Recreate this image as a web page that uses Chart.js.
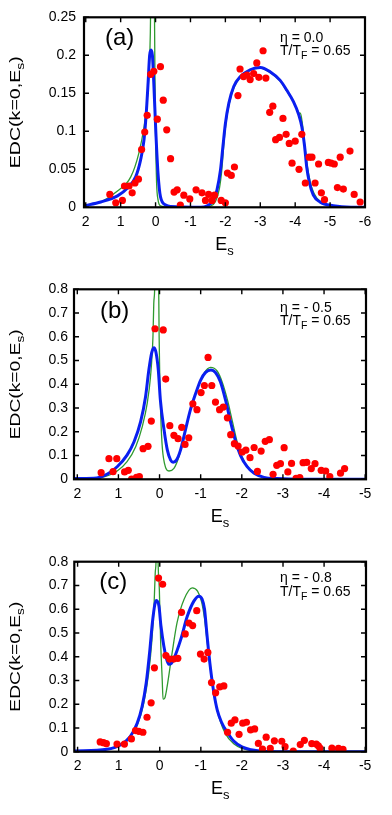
<!DOCTYPE html>
<html><head><meta charset="utf-8">
<script src="https://cdn.jsdelivr.net/npm/chart.js@4.4.1/dist/chart.umd.min.js"></script>
<style>
html,body{margin:0;padding:0;background:#fff;}
#wrap{position:relative;width:392px;height:815px;overflow:hidden;background:#fff;}
canvas{position:absolute;left:0;}
</style></head><body>
<div id="wrap">
<canvas id="ca" width="392" height="270" style="top:0px"></canvas>
<canvas id="cb" width="392" height="270" style="top:270px"></canvas>
<canvas id="cc" width="392" height="275" style="top:540px"></canvas>
</div>
<script>
// ---------- tick values / labels ----------
const xTicksA = [2,1,0,-1,-2,-3,-4,-5,-6];
const xLabelsA = ['2','1','0','-1','-2','-3','-4','-5','-6'];
const yTicksA = [0,0.05,0.1,0.15,0.2,0.25];
const yLabelsA = ['0','0.05','0.1','0.15','0.2','0.25'];
const xTicksBC = [2,1,0,-1,-2,-3,-4,-5];
const xLabelsBC = ['2','1','0','-1','-2','-3','-4','-5'];
const yTicksBC = [0,0.1,0.2,0.3,0.4,0.5,0.6,0.7,0.8];
const yLabelsBC = ['0','0.1','0.2','0.3','0.4','0.5','0.6','0.7','0.8'];

// ---------- panel (a), eta = 0.0 ----------
const dotsA = [[1.31,0.017],[1.14,0.006],[0.95,0.009],[0.89,0.028],[0.76,0.028],[0.67,0.019],[0.59,0.032],[0.49,0.037],[0.40,0.076],[0.31,0.099],[0.24,0.121],[0.14,0.175],[0.05,0.179],[-0.05,0.116],[-0.14,0.185],[-0.22,0.141],[-0.32,0.102],[-0.43,0.064],[-0.53,0.020],[-0.62,0.023],[-0.71,0.003],[-0.81,0.016],[-0.98,0.011],[-1.16,0.023],[-1.33,0.019],[-1.43,0.009],[-1.52,0.017],[-1.62,0.009],[-1.69,0.016],[-1.88,0.009],[-2.00,0.006],[-2.06,0.045],[-2.17,0.042],[-2.26,0.053],[-2.36,0.147],[-2.42,0.182],[-2.52,0.172],[-2.62,0.174],[-2.71,0.168],[-2.81,0.176],[-2.90,0.190],[-2.96,0.171],[-3.08,0.206],[-3.16,0.170],[-3.27,0.125],[-3.36,0.133],[-3.44,0.089],[-3.55,0.092],[-3.65,0.117],[-3.74,0.096],[-3.83,0.084],[-3.91,0.058],[-4.00,0.087],[-4.11,0.050],[-4.19,0.096],[-4.29,0.032],[-4.40,0.066],[-4.48,0.066],[-4.57,0.032],[-4.67,0.057],[-4.75,0.019],[-4.84,0.010],[-4.95,0.059],[-5.03,0.058],[-5.12,0.057],[-5.21,0.026],[-5.29,0.066],[-5.38,0.024],[-5.57,0.074],[-5.69,0.017],[-5.86,0.007]];
const blueA = [[2.05,0.002],[1.57,0.007],[1.09,0.015],[0.81,0.025],[0.57,0.040],[0.43,0.062],[0.33,0.089],[0.26,0.128],[0.21,0.167],[0.17,0.200],[0.13,0.207],[0.09,0.200],[0.05,0.163],[-0.01,0.097],[-0.07,0.045],[-0.14,0.014],[-0.29,0.003],[-0.43,0.001],[-1.30,0.000],[-1.48,0.002],[-1.67,0.010],[-1.76,0.023],[-1.86,0.049],[-1.93,0.080],[-2.00,0.110],[-2.10,0.137],[-2.24,0.159],[-2.43,0.172],[-2.71,0.181],[-3.00,0.184],[-3.29,0.178],[-3.57,0.167],[-3.76,0.154],[-3.95,0.139],[-4.10,0.122],[-4.19,0.106],[-4.27,0.080],[-4.33,0.053],[-4.41,0.032],[-4.52,0.016],[-4.71,0.007],[-5.09,0.002],[-5.60,0.000],[-6.00,0.000]];
const greenA = [[2.05,0.002],[1.57,0.007],[1.10,0.021],[0.71,0.040],[0.48,0.071],[0.33,0.106],[0.24,0.141],[0.18,0.185],[0.15,0.229],[0.13,0.300],[0.09,0.450],[0.05,0.300],[0.03,0.251],[0.02,0.185],[0.00,0.097],[-0.03,0.032],[-0.07,0.010],[-0.14,0.002],[-0.40,0.000],[-1.40,0.000],[-1.55,0.001],[-1.72,0.008],[-1.83,0.025],[-1.90,0.050],[-1.96,0.085],[-2.03,0.115],[-2.12,0.138],[-2.24,0.157],[-2.43,0.171],[-2.71,0.180],[-3.00,0.183],[-3.29,0.177],[-3.57,0.166],[-3.76,0.153],[-3.95,0.139],[-4.06,0.128],[-4.12,0.124],[-4.15,0.124],[-4.20,0.112],[-4.29,0.075],[-4.38,0.045],[-4.48,0.025],[-4.62,0.012],[-4.81,0.005],[-5.20,0.001],[-6.00,0.000]];

// ---------- panel (b), eta = -0.5 ----------
const dotsB = [[1.42,0.028],[1.23,0.087],[1.13,0.032],[1.04,0.087],[0.85,0.031],[0.76,0.038],[0.68,0.001],[0.56,0.008],[0.49,0.011],[0.40,0.129],[0.28,0.139],[0.20,0.245],[0.11,0.634],[-0.09,0.629],[-0.15,0.422],[-0.25,0.226],[-0.35,0.185],[-0.45,0.171],[-0.54,0.219],[-0.62,0.147],[-0.71,0.175],[-0.81,0.318],[-0.91,0.293],[-1.01,0.365],[-1.09,0.395],[-1.18,0.513],[-1.27,0.395],[-1.36,0.325],[-1.46,0.293],[-1.55,0.304],[-1.65,0.259],[-1.73,0.188],[-1.82,0.150],[-1.91,0.140],[-2.01,0.115],[-2.10,0.123],[-2.20,0.091],[-2.30,0.134],[-2.38,0.033],[-2.47,0.119],[-2.57,0.160],[-2.67,0.167],[-2.76,0.021],[-2.85,0.059],[-2.94,0.066],[-3.03,0.133],[-3.12,0.031],[-3.21,0.067],[-3.32,0.004],[-3.41,0.007],[-3.49,0.070],[-3.58,0.071],[-3.69,0.045],[-3.78,0.066],[-3.93,0.038],[-4.04,0.035],[-4.14,0.011],[-4.40,0.026],[-4.50,0.045]];
const blueB = [[2.08,0.003],[1.60,0.004],[1.27,0.022],[1.03,0.053],[0.79,0.102],[0.62,0.158],[0.46,0.243],[0.34,0.348],[0.26,0.460],[0.19,0.533],[0.14,0.554],[0.09,0.537],[0.03,0.460],[-0.02,0.334],[-0.11,0.208],[-0.19,0.123],[-0.27,0.081],[-0.33,0.072],[-0.41,0.081],[-0.51,0.123],[-0.63,0.208],[-0.75,0.292],[-0.88,0.362],[-1.00,0.418],[-1.12,0.450],[-1.25,0.460],[-1.36,0.450],[-1.48,0.411],[-1.61,0.330],[-1.73,0.240],[-1.85,0.160],[-1.97,0.100],[-2.13,0.053],[-2.30,0.025],[-2.54,0.008],[-2.86,0.003],[-3.43,0.000],[-5.02,0.000]];
const greenB = [[2.08,0.001],[1.44,0.007],[1.03,0.035],[0.79,0.074],[0.58,0.137],[0.42,0.222],[0.30,0.320],[0.22,0.432],[0.16,0.601],[0.14,0.741],[0.12,0.794],[0.07,1.300],[0.02,0.794],[0.01,0.601],[-0.02,0.320],[-0.06,0.152],[-0.12,0.067],[-0.23,0.035],[-0.35,0.046],[-0.47,0.095],[-0.59,0.180],[-0.75,0.292],[-0.92,0.383],[-1.08,0.446],[-1.24,0.471],[-1.40,0.456],[-1.52,0.411],[-1.65,0.335],[-1.77,0.245],[-1.89,0.155],[-2.01,0.093],[-2.17,0.046],[-2.38,0.018],[-2.62,0.004],[-3.00,0.000],[-5.02,0.000]];

// ---------- panel (c), eta = -0.8 ----------
const dotsC = [[1.45,0.041],[1.37,0.038],[1.30,0.034],[1.04,0.032],[0.86,0.032],[0.69,0.054],[0.59,0.089],[0.51,0.086],[0.41,0.082],[0.31,0.145],[0.21,0.206],[0.13,0.353],[0.03,0.731],[-0.07,0.705],[-0.15,0.405],[-0.24,0.390],[-0.34,0.390],[-0.44,0.393],[-0.53,0.587],[-0.62,0.496],[-0.71,0.542],[-0.80,0.531],[-0.90,0.594],[-0.99,0.411],[-1.08,0.390],[-1.17,0.418],[-1.26,0.291],[-1.36,0.248],[-1.46,0.273],[-1.56,0.277],[-1.65,0.082],[-1.74,0.120],[-1.83,0.134],[-1.93,0.073],[-2.02,0.120],[-2.11,0.124],[-2.21,0.092],[-2.31,0.096],[-2.40,0.035],[-2.50,0.011],[-2.59,0.061],[-2.69,0.014],[-2.79,0.046],[-2.97,0.044],[-3.05,0.021],[-3.25,0.003],[-3.42,0.030],[-3.52,0.048],[-3.70,0.034],[-3.81,0.032],[-3.86,0.025],[-3.90,0.015],[-4.19,0.015],[-4.35,0.014],[-4.46,0.010]];
const blueC = [[2.08,0.003],[1.29,0.010],[0.96,0.028],[0.72,0.063],[0.55,0.120],[0.43,0.190],[0.33,0.289],[0.24,0.430],[0.18,0.542],[0.12,0.620],[0.08,0.637],[0.02,0.613],[-0.03,0.528],[-0.10,0.444],[-0.16,0.394],[-0.22,0.368],[-0.28,0.372],[-0.34,0.390],[-0.51,0.472],[-0.67,0.570],[-0.83,0.634],[-0.95,0.655],[-1.03,0.643],[-1.09,0.600],[-1.14,0.510],[-1.19,0.420],[-1.25,0.330],[-1.32,0.245],[-1.40,0.175],[-1.50,0.125],[-1.65,0.080],[-1.80,0.045],[-2.00,0.020],[-2.22,0.008],[-2.50,0.002],[-3.00,0.000],[-5.02,0.000]];
const greenC = [[2.08,0.001],[1.45,0.006],[1.04,0.020],[0.76,0.054],[0.55,0.110],[0.39,0.204],[0.27,0.331],[0.19,0.472],[0.14,0.612],[0.11,0.753],[0.09,0.803],[0.06,1.100],[0.04,0.803],[0.01,0.683],[-0.02,0.472],[-0.06,0.303],[-0.08,0.221],[-0.12,0.225],[-0.18,0.275],[-0.30,0.415],[-0.42,0.542],[-0.59,0.641],[-0.79,0.690],[-0.92,0.676],[-1.02,0.630],[-1.09,0.560],[-1.15,0.470],[-1.21,0.380],[-1.28,0.290],[-1.36,0.205],[-1.46,0.135],[-1.60,0.075],[-1.80,0.033],[-2.00,0.014],[-2.30,0.004],[-2.60,0.000],[-5.02,0.000]];

// ---------- drawing helpers ----------
const FONT = '"Liberation Sans", Arial, Helvetica, sans-serif';
function richWidth(ctx, parts, size, subSize){
  let w = 0;
  parts.forEach(([t, sub]) => { ctx.font = (sub ? subSize : size) + 'px ' + FONT; w += ctx.measureText(t).width; });
  return w;
}
function drawRich(ctx, parts, x, y, size, subSize, subDy){
  let cx = x;
  ctx.textAlign = 'left'; ctx.textBaseline = 'alphabetic';
  parts.forEach(([t, sub]) => {
    ctx.font = (sub ? subSize : size) + 'px ' + FONT;
    ctx.fillText(t, cx, y + (sub ? subDy : 0));
    cx += ctx.measureText(t).width;
  });
}
const toXY = arr => arr.map(([x, y]) => ({x, y}));

const framePlugin = {
  id: 'frame',
  afterDraw(chart) {
    const p = chart.options.plugins.frame;
    const {ctx, chartArea: a} = chart;
    const xs = chart.scales.x, ys = chart.scales.y;
    ctx.save();
    ctx.strokeStyle = '#000'; ctx.fillStyle = '#000';
    ctx.lineWidth = 1.4;
    const tl = 5;
    ctx.beginPath();
    xs.ticks.forEach(t => { const px = xs.getPixelForValue(t.value);
      ctx.moveTo(px, a.bottom); ctx.lineTo(px, a.bottom - tl);
      ctx.moveTo(px, a.top); ctx.lineTo(px, a.top + tl); });
    ys.ticks.forEach(t => { const py = ys.getPixelForValue(t.value);
      ctx.moveTo(a.left, py); ctx.lineTo(a.left + tl, py);
      ctx.moveTo(a.right, py); ctx.lineTo(a.right - tl, py); });
    ctx.stroke();
    ctx.lineWidth = 2.2;
    ctx.strokeRect(a.left, a.top, a.right - a.left, a.bottom - a.top);
    // panel label
    ctx.font = '24px ' + FONT; ctx.textAlign = 'left'; ctx.textBaseline = 'alphabetic';
    ctx.fillText(p.tag, p.tagX, p.tagY);
    // annotations
    drawRich(ctx, [[p.eta, false]], p.annX, p.annY1, 14, 10, 4);
    drawRich(ctx, [['T/T', false], ['F', true], [' = 0.65', false]], p.annX, p.annY2, 14, 10.5, 4);
    // x title
    const xParts = [['E', false], ['s', true]];
    const xw = richWidth(ctx, xParts, 18, 13);
    drawRich(ctx, xParts, (a.left + a.right) / 2 - xw / 2, a.bottom + 42.5, 18, 13, 5);
    // y title
    ctx.save();
    ctx.translate(p.yTitleX, (a.top + a.bottom) / 2);
    ctx.rotate(-Math.PI / 2);
    const yParts = [['EDC(k=0,E', false], ['s', true], [')', false]];
    const yw = richWidth(ctx, yParts, 15.5, 11);
    ctx.scale(p.yTitleLen / yw, 1);
    drawRich(ctx, yParts, -yw / 2, 0, 15.5, 11, 4);
    ctx.restore();
    ctx.restore();
  }
};

function makePanel(id, P) {
  const el = document.getElementById(id);
  const H = el.height;
  return new Chart(el, {
    type: 'scatter',
    data: { datasets: [
      { label: 'data', data: toXY(P.dots), showLine: false, pointRadius: 3.6, pointHoverRadius: 3.6,
        pointBackgroundColor: '#ff0000', pointBorderWidth: 0, pointBorderColor: '#ff0000', order: 0 },
      { label: 'blue', data: toXY(P.blue), showLine: true, borderColor: '#0a1ff0', borderWidth: 3,
        pointRadius: 0, pointHoverRadius: 0, cubicInterpolationMode: 'monotone', fill: false, order: 1 },
      { label: 'green', data: toXY(P.green), showLine: true, borderColor: '#2f9a2f', borderWidth: 1.3,
        pointRadius: 0, pointHoverRadius: 0, cubicInterpolationMode: 'monotone', fill: false, order: 2 }
    ]},
    options: {
      responsive: false, animation: false, devicePixelRatio: 1,
      events: [],
      layout: { padding: { left: 0, right: 392 - P.right, top: P.top, bottom: H - P.bottom - 30 } },
      plugins: { legend: { display: false }, tooltip: { enabled: false }, frame: P.frame },
      scales: {
        x: { type: 'linear', reverse: true, min: P.xMin, max: P.xMax,
          grid: { display: false, drawTicks: false }, border: { display: false },
          afterBuildTicks: s => { s.ticks = P.xTicks.map(v => ({ value: v })); },
          afterFit: s => { s.height = 30; },
          ticks: { autoSkip: false, maxRotation: 0, minRotation: 0, padding: 6, color: '#000',
            font: { family: FONT, size: 14 }, callback: (v, i) => P.xLabels[i] } },
        y: { type: 'linear', min: 0, max: P.yMax,
          grid: { display: false, drawTicks: false }, border: { display: false },
          afterBuildTicks: s => { s.ticks = P.yTicks.map(v => ({ value: v })); },
          afterFit: s => { s.width = P.left; },
          ticks: { autoSkip: false, padding: P.yPad, color: '#000',
            font: { family: FONT, size: 14 }, callback: (v, i) => P.yLabels[i] } }
      }
    },
    plugins: [framePlugin]
  });
}

makePanel('ca', { dots: dotsA, blue: blueA, green: greenA, left: 84, right: 365, top: 17.3, bottom: 207.3,
  xMin: -6, xMax: 2.05, yMax: 0.25, yPad: 8, xTicks: xTicksA, xLabels: xLabelsA, yTicks: yTicksA, yLabels: yLabelsA,
  frame: { tag: '(a)', tagX: 105, tagY: 45, eta: '\u03b7 = 0.0', annX: 280, annY1: 41.5, annY2: 55, yTitleX: 20, yTitleLen: 112 } });
makePanel('cb', { dots: dotsB, blue: blueB, green: greenB, left: 74, right: 366, top: 19.3, bottom: 209.3,
  xMin: -5.02, xMax: 2.08, yMax: 0.8, yPad: 6, xTicks: xTicksBC, xLabels: xLabelsBC, yTicks: yTicksBC, yLabels: yLabelsBC,
  frame: { tag: '(b)', tagX: 100, tagY: 48.3, eta: '\u03b7 = - 0.5', annX: 280, annY1: 42.3, annY2: 55, yTitleX: 20, yTitleLen: 110 } });
makePanel('cc', { dots: dotsC, blue: blueC, green: greenC, left: 74.3, right: 366, top: 21.7, bottom: 211.7,
  xMin: -5.02, xMax: 2.08, yMax: 0.8, yPad: 6, xTicks: xTicksBC, xLabels: xLabelsBC, yTicks: yTicksBC, yLabels: yLabelsBC,
  frame: { tag: '(c)', tagX: 99.3, tagY: 49, eta: '\u03b7 = - 0.8', annX: 280, annY1: 42, annY2: 56, yTitleX: 20, yTitleLen: 110 } });
</script>
</body></html>
